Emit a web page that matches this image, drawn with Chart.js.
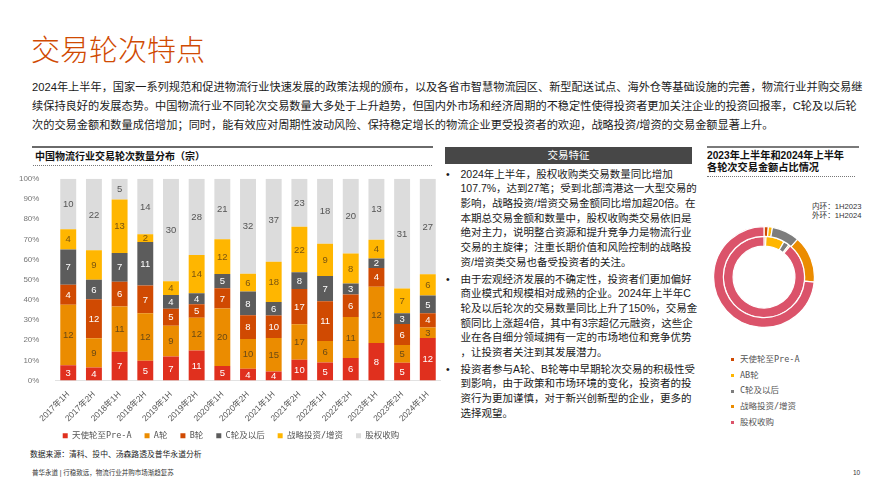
<!DOCTYPE html>
<html><head><meta charset="utf-8">
<script src="https://cdn.jsdelivr.net/npm/chart.js@4.4.1/dist/chart.umd.min.js"></script>
<style>
*{margin:0;padding:0;box-sizing:border-box}
html,body{width:889px;height:500px;background:#fff;overflow:hidden}
body{position:relative;font-family:"Liberation Sans","Noto Sans CJK SC",sans-serif;color:#1a1a1a}
.abs{position:absolute;white-space:nowrap}
#title{left:31px;top:28px;font-size:29px;line-height:40px;color:#d04a02;font-weight:300;font-family:"Noto Sans CJK SC",sans-serif}
#intro{left:32px;top:77.5px;font-size:11.2px;line-height:19px;color:#1a1a1a}
.solid{position:absolute;height:2px}
.dotted{position:absolute;height:0;border-top:1px dotted #777}
#barTitle{left:35px;top:150px;font-size:10px;line-height:14px;font-weight:bold;color:#111}
#midHead{left:445px;top:147px;width:247px;height:17px;background:#474747;color:#fff;font-size:10.5px;line-height:17px;text-align:center}
#midText{left:446px;top:166.6px;font-size:10.5px;line-height:14.7px;color:#1a1a1a}
#midText .p{position:relative;padding-left:14.5px;margin-bottom:2px}
#midText .p:before{content:"•";position:absolute;left:0;top:0}
#rightHead{left:707px;top:150.3px;font-size:10.2px;line-height:11.5px;font-weight:bold;color:#111}
#ringNote{left:812px;top:203px;font-size:7.6px;line-height:8.8px;color:#333}
#ringLegend{left:729px;top:352px;font-size:8.5px;color:#555;font-family:"DejaVu Sans Mono","Noto Sans CJK SC",monospace}
#ringLegend div{position:relative;height:15.7px;line-height:15.7px;padding-left:11px}
#ringLegend span{position:absolute;left:1.5px;top:6.4px;width:3px;height:3px}
#source{left:30px;top:449px;font-size:7.8px;line-height:12px;color:#222}
#footer{left:32px;top:468px;font-size:6.5px;line-height:10px;color:#333}
#page{left:853px;top:468px;font-size:6.5px;line-height:10px;color:#333}
#barWrap{position:absolute;left:18px;top:166px}
#ringWrap{position:absolute;left:713px;top:225.5px}
</style></head>
<body>
<div id="title" class="abs">交易轮次特点</div>
<div id="intro" class="abs">2024年上半年，国家一系列规范和促进物流行业快速发展的政策法规的颁布，以及各省市智慧物流园区、新型配送试点、海外仓等基础设施的完善，物流行业并购交易继<br>续保持良好的发展态势。中国物流行业不同轮次交易数量大多处于上升趋势，但国内外市场和经济周期的不稳定性使得投资者更加关注企业的投资回报率，C轮及以后轮<br>次的交易金额和数量成倍增加；同时，能有效应对周期性波动风险、保持稳定增长的物流企业更受投资者的欢迎，战略投资/增资的交易金额显著上升。</div>

<div class="solid" style="left:32px;top:146px;width:401px;background:#6a6a6a"></div>
<div id="barTitle" class="abs">中国物流行业交易轮次数量分布（宗）</div>
<div class="dotted" style="left:33px;top:165px;width:399px"></div>

<div id="midHead" class="abs">交易特征</div>
<div id="midText" class="abs">
<div class="p">2024年上半年，股权收购类交易数量同比增加<br>107.7%，达到27笔；受到北部湾港这一大型交易的<br>影响，战略投资/增资交易金额同比增加超20倍。在<br>本期总交易金额和数量中，股权收购类交易依旧是<br>绝对主力，说明整合资源和提升竞争力是物流行业<br>交易的主旋律；注重长期价值和风险控制的战略投<br>资/增资类交易也备受投资者的关注。</div>
<div class="p">由于宏观经济发展的不确定性，投资者们更加偏好<br>商业模式和规模相对成熟的企业。2024年上半年C<br>轮及以后轮次的交易数量同比上升了150%，交易金<br>额同比上涨超4倍，其中有3宗超亿元融资，这些企<br>业在各自细分领域拥有一定的市场地位和竞争优势<br>，让投资者关注到其发展潜力。</div>
<div class="p">投资者参与A轮、B轮等中早期轮次交易的积极性受<br>到影响，由于政策和市场环境的变化，投资者的投<br>资行为更加谨慎，对于新兴创新型的企业，更多的<br>选择观望。</div>
</div>

<div class="solid" style="left:707px;top:146px;width:152px;background:#7a7a7a"></div>
<div id="rightHead" class="abs">2023年上半年和2024年上半年<br>各轮次交易金额占比情况</div>
<div class="dotted" style="left:707px;top:176px;width:148px"></div>
<div id="ringNote" class="abs">内环：1H2023<br>外环：1H2024</div>
<div id="ringLegend" class="abs"></div>

<div id="source" class="abs">数据来源：清科、投中、汤森路透及普华永道分析</div>
<div id="footer" class="abs">普华永道 | 行稳致远，物流行业并购市场渐趋复苏</div>
<div id="page" class="abs">10</div>

<div id="barWrap"><canvas id="bar" width="426" height="294" style="width:426px;height:294px"></canvas></div>
<div id="ringWrap"><canvas id="ring" width="102" height="102" style="width:102px;height:102px"></canvas></div>

<script>
// ---------- data ----------
const categories = ['2017年1H','2017年2H','2018年1H','2018年2H','2019年1H','2019年2H','2020年1H','2020年2H','2021年1H','2021年2H','2022年1H','2022年2H','2023年1H','2023年2H','2024年1H'];
const seriesNames = ['天使轮至Pre-A','A轮','B轮','C轮及以后','战略投资/增资','股权收购'];
const angelPreA = [3,4,7,5,7,11,5,4,4,10,5,6,8,5,12];
const roundA    = [12,9,11,12,9,12,20,10,15,17,6,11,12,5,3];
const roundB    = [4,12,6,7,5,5,7,8,10,17,11,6,4,6,4];
const roundC    = [7,6,7,11,4,4,5,8,6,8,7,3,2,3,5];
const strategic = [4,9,13,2,4,14,12,6,18,22,9,8,4,7,6];
const equityAcq = [10,22,5,14,30,28,21,32,37,23,18,20,13,31,27];

const ringSeries = ['天使轮至Pre-A','AB轮','C轮及以后','战略投资/增资','股权收购'];
const share1H2023 = [0.8,7.4,2.3,0.6,88.9];
const share1H2024 = [1.4,1.3,8.9,15.0,73.4];

// ---------- styles ----------
const barColors = ['#e0301e','#eb8c00','#d04a02','#5c5c5c','#ffb600','#dcdcdc'];
const labelColors = ['#ffffff','#6b4a14','#ffffff','#ffffff','#7a5510','#555555'];
const ringColors = ['#d04a02','#ffb600','#7d7d7d','#eb8c00','#db536a'];

const seriesCounts = [angelPreA, roundA, roundB, roundC, strategic, equityAcq];
const totals = categories.map((_, i) => seriesCounts.reduce((s, a) => s + a[i], 0));

const segLabels = {
  id: 'segLabels',
  afterDatasetsDraw(chart) {
    const ctx = chart.ctx;
    ctx.save();
    ctx.font = '9.5px "Liberation Sans", Arial, sans-serif';
    ctx.textAlign = 'center';
    ctx.textBaseline = 'middle';
    chart.data.datasets.forEach((ds, i) => {
      const meta = chart.getDatasetMeta(i);
      meta.data.forEach((bar, j) => {
        const v = ds.counts[j];
        if (!v) return;
        const p = bar.getProps(['x', 'y', 'base'], true);
        ctx.fillStyle = labelColors[i];
        ctx.fillText(String(v), p.x, (p.y + p.base) / 2 + 0.5);
      });
    });
    ctx.restore();
  }
};

// lift the legend a little so it sits closer to the rotated tick labels
const legendLift = {
  id: 'legendLift',
  afterLayout(chart) {
    const l = chart.legend;
    if (l) { l.top -= 10; l.bottom -= 10; }
  }
};

new Chart(document.getElementById('bar'), {
  type: 'bar',
  data: {
    labels: categories,
    datasets: seriesCounts.map((arr, k) => ({
      label: seriesNames[k],
      data: arr.map((v, i) => v / totals[i] * 100),
      counts: arr,
      backgroundColor: barColors[k],
      borderWidth: 0,
      barPercentage: 0.62,
      categoryPercentage: 1
    }))
  },
  options: {
    responsive: false,
    animation: false,
    layout: { padding: { top: 9, left: 0, right: 0, bottom: 0 } },
    plugins: {
      tooltip: { enabled: false },
      legend: {
        position: 'bottom',
        labels: {
          boxWidth: 5, boxHeight: 5, padding: 13, color: '#555',
          font: { size: 8.5, family: '"DejaVu Sans Mono", "Noto Sans CJK SC", monospace' }
        }
      }
    },
    scales: {
      x: {
        stacked: true,
        grid: { display: false, drawTicks: false },
        border: { display: true, color: '#e2e2e2' },
        ticks: { minRotation: 45, maxRotation: 45, color: '#555', padding: 9,
          font: { size: 8.5, family: '"Liberation Sans", "Noto Sans CJK SC", sans-serif' } },
        afterFit(s) { s.height = 48; }
      },
      y: {
        stacked: true, min: 0, max: 100,
        grid: { display: false },
        border: { display: false },
        ticks: { stepSize: 10, color: '#777', padding: 8,
          font: { size: 8, family: '"Liberation Sans", sans-serif' },
          callback: v => v + '%' },
        afterFit(s) { s.width = 37.4; }
      }
    }
  },
  plugins: [segLabels, legendLift]
});

new Chart(document.getElementById('ring'), {
  type: 'doughnut',
  data: {
    labels: ringSeries,
    datasets: [
      { label: '1H2024', data: share1H2024, backgroundColor: ringColors, borderColor: '#fff', borderWidth: 1.2 },
      { label: '1H2023', data: share1H2023, backgroundColor: ringColors, borderColor: '#fff', borderWidth: 1.2 }
    ]
  },
  options: {
    responsive: false, animation: false, cutout: '61.4%',
    layout: { padding: 0 },
    plugins: { legend: { display: false }, tooltip: { enabled: false } }
  }
});

const lg = document.getElementById('ringLegend');
ringSeries.forEach((n, i) => {
  const d = document.createElement('div');
  const s = document.createElement('span');
  s.style.background = ringColors[i];
  d.appendChild(s);
  d.appendChild(document.createTextNode(n));
  lg.appendChild(d);
});
</script>
</body></html>
